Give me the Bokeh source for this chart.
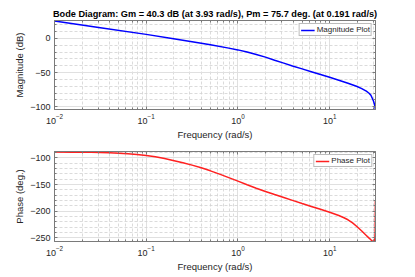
from bokeh.plotting import figure
from bokeh.layouts import column
from bokeh.models import (Range1d, FixedTicker, Legend, LegendItem, Title,
                          LogTickFormatter, LogAxis, LinearAxis)
from bokeh.embed import file_html
from bokeh.resources import INLINE

# ---- data ----
title_text = "Bode Diagram: Gm = 40.3 dB (at 3.93 rad/s), Pm = 75.7 deg. (at 0.191 rad/s)"

mag_freq = [0.01, 0.03162, 0.1, 0.191, 0.3162, 0.5012, 0.7943, 1.0, 1.259, 1.585,
            1.995, 2.512, 3.162, 3.93, 5.012, 6.310, 7.943, 10.0, 12.59, 15.85,
            19.95, 22.39, 25.12, 26.92, 28.18, 29.17, 30.06, 30.76, 31.12, 31.33, 31.55]
mag_db = [25.3, 15.6, 5.9, 0.0, -4.8, -9.4, -14.2, -16.8, -19.9, -23.5,
          -27.4, -32.0, -36.2, -40.3, -44.6, -48.7, -52.8, -56.9, -61.1, -65.5,
          -70.4, -73.4, -77.2, -80.2, -83.2, -87.5, -91.5, -96.0, -99.0, -101.8, -104.0]

phase_freq = [0.01, 0.01585, 0.02512, 0.03981, 0.05012, 0.06310, 0.07943, 0.1,
              0.1259, 0.1585, 0.191, 0.2512, 0.3162, 0.3981, 0.5012, 0.6310,
              0.7943, 1.0, 1.259, 1.585, 1.995, 2.512, 3.162, 3.93, 5.012, 6.310,
              7.943, 10.0, 12.59, 14.13, 15.85, 17.78, 19.95, 22.39, 25.12, 26.92,
              28.18, 29.17, 30.06, 30.76, 31.12, 31.33, 31.55]
phase_deg = [-89.0, -89.2, -89.6, -90.4, -91.1, -92.1, -93.5, -95.4,
             -97.9, -101.1, -104.3, -109.2, -113.6, -118.6, -124.3, -130.5,
             -137.0, -143.7, -150.4, -156.9, -163.1, -168.9, -174.5, -179.8, -185.7, -191.2,
             -196.6, -202.0, -208.3, -211.9, -216.2, -222.0, -229.3, -237.3, -245.6, -250.6,
             -253.8, -255.8, -256.6, -256.2, -252.0, -240.0, -180.0]

x_decades = [-2, -1, 0, 1]
mag_ticks = [-100, -50, 0]
phase_ticks = [-250, -200, -150, -100]

x_min, x_max = 0.01, 10 ** 1.5
mag_lim = (-104.0, 26.2)
phase_lim = (-257.0, -88.0)

FONT = "Liberation Sans"
TXT = "#262626"
AX = "#7a7a7a"
W = 415

x_major = [10.0 ** d for d in x_decades]
x_minor = [m * 10.0 ** d for d in x_decades for m in range(2, 10) if m * 10.0 ** d <= x_max]


def style_axis(ax):
    ax.axis_line_color = AX
    ax.major_tick_line_color = AX
    ax.minor_tick_line_color = AX
    ax.major_tick_in = 3
    ax.major_tick_out = 0
    ax.minor_tick_in = 2
    ax.minor_tick_out = 0
    ax.major_label_text_font = FONT
    ax.major_label_text_font_size = "9px"
    ax.major_label_text_color = TXT
    ax.axis_label_text_font = FONT
    ax.axis_label_text_font_size = "9.5px"
    ax.axis_label_text_font_style = "normal"
    ax.axis_label_text_color = TXT
    ax.axis_label_standoff = 2
    ax.major_label_standoff = 4


def make_fig(h, ylim, yticks, ylabel, top, bottom):
    p = figure(width=W, height=h, x_axis_type="log",
               x_range=Range1d(x_min, x_max), y_range=Range1d(*ylim),
               output_backend="svg", toolbar_location=None,
               min_border_left=54, min_border_right=40,
               min_border_top=top, min_border_bottom=bottom,
               background_fill_color="white", border_fill_color="white")
    p.outline_line_color = AX
    xt = FixedTicker(ticks=x_major, minor_ticks=x_minor)
    lo = int(min(yticks)) - 50
    yt = FixedTicker(ticks=yticks, minor_ticks=list(range(lo, int(ylim[1]) + 10, 10)))
    p.xaxis.ticker = xt
    p.xaxis.formatter = LogTickFormatter()
    p.yaxis.ticker = yt
    style_axis(p.xaxis[0])
    style_axis(p.yaxis[0])
    p.xaxis.axis_label = "Frequency (rad/s)"
    p.yaxis.axis_label = ylabel
    # tick marks on the top and right edges of the box (no labels)
    top_ax = LogAxis(ticker=xt, major_label_overrides={v: "" for v in x_major})
    right_ax = LinearAxis(ticker=yt, major_label_overrides={v: "" for v in yticks})
    for ax in (top_ax, right_ax):
        style_axis(ax)
        ax.major_label_text_font_size = "0px"
        ax.major_label_standoff = 0
    p.add_layout(top_ax, "above")
    p.add_layout(right_ax, "right")
    for g in (p.xgrid[0], p.ygrid[0]):
        g.grid_line_color = "#e0e0e0"
        g.grid_line_width = 1
        g.minor_grid_line_color = "#d2d2d2"
        g.minor_grid_line_dash = "3 2"
        g.minor_grid_line_width = 0.8
    return p


p1 = make_fig(142, mag_lim, mag_ticks, "Magnitude (dB)", 20, 33)
p1.add_layout(Title(text=title_text, align="center", text_font=FONT,
                    text_font_size="9.2px", text_font_style="bold",
                    text_color="#000000", standoff=3), "above")
r1 = p1.line(mag_freq, mag_db, line_color="#0000ff", line_width=1.5)
leg1 = Legend(items=[LegendItem(label="Magnitude Plot", renderers=[r1])],
              location="top_right")
p1.add_layout(leg1)

p2 = make_fig(135, phase_lim, phase_ticks, "Phase (deg.)", 9, 36)
r2 = p2.line(phase_freq, phase_deg, line_color="#ff2020", line_width=1.5)
leg2 = Legend(items=[LegendItem(label="Phase Plot", renderers=[r2])],
              location="top_right")
p2.add_layout(leg2)

for lg in (leg1, leg2):
    lg.label_text_font = FONT
    lg.label_text_font_size = "8px"
    lg.label_text_color = TXT
    lg.label_height = 8
    lg.glyph_height = 8
    lg.glyph_width = 14
    lg.label_standoff = 2
    lg.padding = 1
    lg.spacing = 0
    lg.margin = 3
    lg.border_line_color = AX
    lg.border_line_width = 1
    lg.background_fill_color = "white"
    lg.background_fill_alpha = 1.0

layout = column(p1, p2, spacing=0)
open("out.html", "w").write(file_html(layout, INLINE))
